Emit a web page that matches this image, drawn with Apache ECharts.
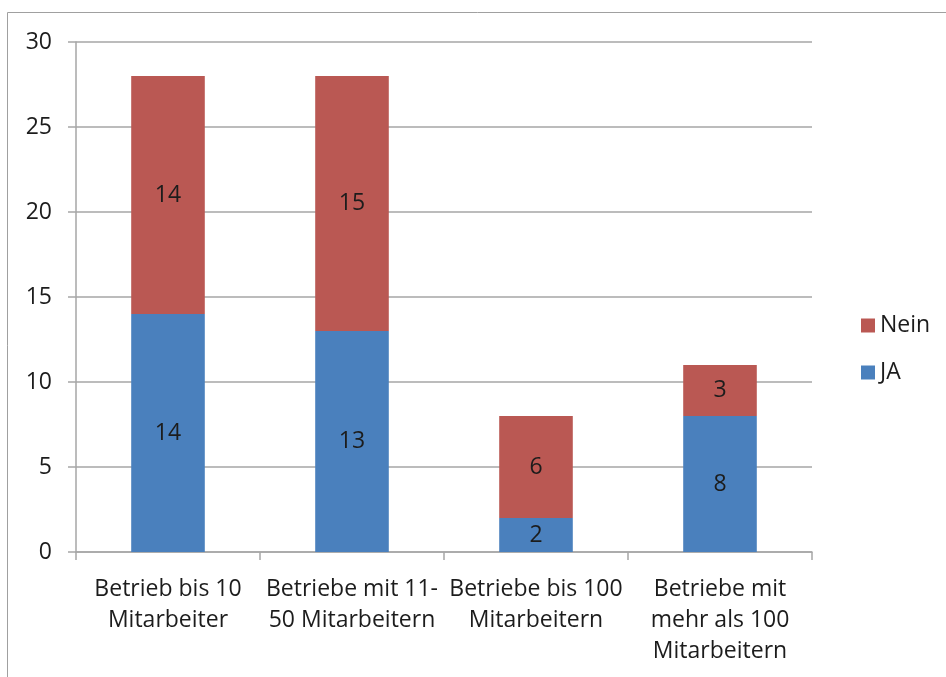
<!DOCTYPE html>
<html>
<head>
<meta charset="utf-8">
<script src="https://cdn.jsdelivr.net/npm/echarts@6/dist/echarts.min.js"></script>
<style>
  html, body { margin: 0; padding: 0; background: #fff; }
  #chart { width: 946px; height: 677px; }
</style>
</head>
<body>
<div id="chart"></div>
<script>
// Betriebsgrößen und Antworten (Anzahl)
const categories = [
  'Betrieb bis 10\nMitarbeiter',
  'Betriebe mit 11-\n50 Mitarbeitern',
  'Betriebe bis 100\nMitarbeitern',
  'Betriebe mit\nmehr als 100\nMitarbeitern'
];
const jaValues = [14, 13, 2, 8];
const neinValues = [14, 15, 6, 3];
const yTicks = [0, 5, 10, 15, 20, 25, 30];

const font = '"Open Sans", "Noto Sans", sans-serif';
const fontSize = 23;
const textColor = '#1c1c1c';
const gridColor = '#a6a6a6';

const chart = echarts.init(document.getElementById('chart'), null, { renderer: 'canvas' });

const labelStyle = {
  show: true,
  position: 'inside',
  color: textColor,
  fontFamily: font,
  fontSize: fontSize
};

chart.setOption({
  animation: false,
  backgroundColor: '#fff',
  graphic: [{
    type: 'rect',
    shape: { x: 7.5, y: 12.5, width: 1000, height: 1000 },
    style: { fill: 'none', stroke: '#a0a0a0', lineWidth: 1 },
    silent: true
  }],
  grid: { left: 76, right: 134, top: 42, bottom: 125, containLabel: false },
  legend: {
    orient: 'vertical',
    left: 856,
    top: 309,
    itemWidth: 14,
    itemHeight: 14,
    itemGap: 24,
    icon: 'rect',
    data: ['Nein', 'JA'],
    textStyle: { fontFamily: font, fontSize: fontSize, color: textColor, padding: [0, 0, 0, 0] }
  },
  xAxis: {
    type: 'category',
    data: categories,
    axisLine: { show: true, lineStyle: { color: gridColor, width: 1.5 } },
    axisTick: { show: true, alignWithLabel: false, length: 8, lineStyle: { color: gridColor, width: 1.5 } },
    axisLabel: {
      fontFamily: font, fontSize: fontSize, color: textColor, lineHeight: 31, margin: 22,
      interval: 0
    }
  },
  yAxis: {
    type: 'value',
    min: 0,
    max: 30,
    interval: 5,
    axisLine: { show: true, lineStyle: { color: gridColor, width: 1.5 } },
    axisTick: { show: true, inside: false, length: 8, lineStyle: { color: gridColor, width: 1.5 } },
    splitLine: { show: true, lineStyle: { color: gridColor, width: 1.5 } },
    axisLabel: {
      fontFamily: font, fontSize: fontSize, color: textColor, margin: 24,
      formatter: v => yTicks.includes(v) ? String(v) : ''
    }
  },
  series: [
    {
      name: 'JA',
      type: 'bar',
      stack: 'total',
      data: jaValues,
      barWidth: '40%',
      itemStyle: { color: '#4A80BD' },
      label: labelStyle
    },
    {
      name: 'Nein',
      type: 'bar',
      stack: 'total',
      data: neinValues,
      barWidth: '40%',
      itemStyle: { color: '#BA5853' },
      label: labelStyle
    }
  ]
});
</script>
</body>
</html>
